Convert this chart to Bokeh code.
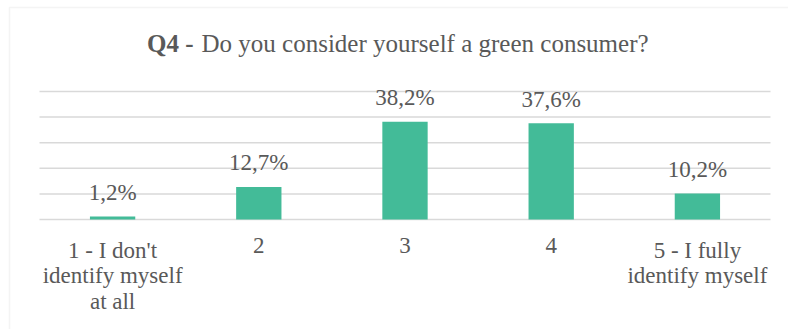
from bokeh.plotting import figure
from bokeh.models import Range1d, BoxAnnotation, ColumnDataSource
from bokeh.core.properties import value
from bokeh.embed import file_html
from bokeh.resources import INLINE

categories = ["1 - I don't\nidentify myself\nat all", "2", "3", "4", "5 - I fully\nidentify myself"]
values = [1.2, 12.7, 38.2, 37.6, 10.2]
y_ticks = [0, 10, 20, 30, 40, 50]
title_bold = "Q4 -"
title_rest = "Do you consider yourself a green consumer?"

FONT = "Liberation Serif"
TXT = "#595959"
GRID = "#D9D9D9"
BAR = "#43BB98"

# pixel layout of the plotting area inside the 788x329 canvas
X0, X1 = 39, 770      # left/right px of the category area
Y0, Y50 = 219, 91     # px (from top) for 0 and 50
W, H = 788, 329
sx = (X1 - X0) / 5.0
sy = (Y0 - Y50) / 50.0

xs = [i + 0.5 for i in range(len(categories))]
labels = [f"{v:.1f}%".replace(".", ",") for v in values]
src = ColumnDataSource(dict(x=xs, top=values, lab=labels))

p = figure(width=W, height=H, output_backend="svg", toolbar_location=None,
           x_range=Range1d(-X0 / sx, (W - X0) / sx),
           y_range=Range1d(-(H - Y0) / sy, Y0 / sy),
           min_border=0)
p.outline_line_color = None
p.background_fill_color = "white"
p.border_fill_color = "white"
p.xaxis.visible = False
p.yaxis.visible = False
p.grid.visible = False

# gridlines
p.segment(x0=[0] * len(y_ticks), x1=[5] * len(y_ticks), y0=y_ticks, y1=y_ticks,
          line_color=GRID, line_width=1.5)

p.vbar(x="x", top="top", bottom=0, width=0.31, source=src, fill_color=BAR, line_color=None)
p.text(x="x", y="top", text="lab", source=src, text_font=value(FONT), text_font_size="23px",
       text_color=TXT, text_align="center", text_baseline="alphabetic", y_offset=-24)

# category labels
p.text(x=xs, y=[0] * len(xs), text=categories, text_font=value(FONT), text_font_size="23px",
       text_color=TXT, text_align="center", text_baseline="top", text_line_height=1.03,
       y_offset=18)

# title (bold prefix + regular text)
ty = (Y0 - 42.7) / sy
p.text(x=[(193 - X0) / sx], y=[ty], text=[title_bold], text_font=value(FONT),
       text_font_size="25px", text_font_style="bold", text_color=TXT,
       text_align="right", text_baseline="alphabetic")
p.text(x=[(201 - X0) / sx], y=[ty], text=[title_rest], text_font=value(FONT),
       text_font_size="25px", text_color=TXT,
       text_align="left", text_baseline="alphabetic")

# chart border
p.add_layout(BoxAnnotation(left=(9 - X0) / sx, right=6, top=(Y0 - 7) / sy, bottom=-100,
                           fill_color=None, fill_alpha=0, line_color=GRID, line_width=1.5))

open("out.html", "w").write(file_html(p, INLINE))
